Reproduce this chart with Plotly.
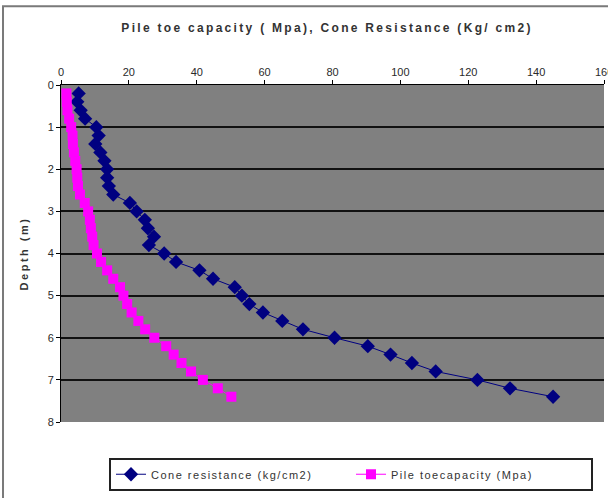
import plotly.graph_objects as go

depth = [0.2, 0.4, 0.6, 0.8, 1.0, 1.2, 1.4, 1.6, 1.8, 2.0, 2.2, 2.4, 2.6, 2.8, 3.0, 3.2, 3.4, 3.6, 3.8,
         4.0, 4.2, 4.4, 4.6, 4.8, 5.0, 5.2, 5.4, 5.6, 5.8, 6.0, 6.2, 6.4, 6.6, 6.8, 7.0, 7.2, 7.4]
cone_resistance = [5.2, 4.8, 5.8, 7.1, 10.4, 11.1, 10.1, 11.6, 12.8, 13.6, 13.6, 14.1, 15.4, 20.3, 22.3,
                   24.7, 25.6, 27.4, 25.9, 30.4, 33.9, 40.8, 44.8, 51.2, 53.3, 55.5, 59.5, 65.2, 71.3,
                   80.6, 90.4, 97.1, 103.4, 110.4, 122.7, 132.3, 145.0]
pile_toe = [1.6, 1.7, 1.9, 2.4, 3.0, 3.4, 3.5, 3.8, 4.2, 4.6, 4.8, 5.0, 5.6, 7.0, 8.0, 8.5, 8.8, 9.2, 9.6,
            10.6, 11.8, 13.6, 15.4, 17.4, 18.4, 19.5, 20.8, 22.8, 24.8, 27.5, 31.0, 33.2, 35.5, 38.3,
            41.8, 46.2, 50.2]

x_ticks = [0, 20, 40, 60, 80, 100, 120, 140, 160]
y_ticks = [0, 1, 2, 3, 4, 5, 6, 7, 8]

title_text = "Pile toe capacity ( Mpa), Cone Resistance (Kg/ cm2)"
y_title = "Depth (m)"
cone_name = "Cone resistance (kg/cm2)"
pile_name = "Pile toecapacity (Mpa)"


def spaced(t, sp):
    return '<span style="letter-spacing:%spx">%s</span>' % (sp, t)


fig = go.Figure()
fig.add_trace(go.Scatter(
    x=cone_resistance, y=depth, mode="lines+markers",
    name=spaced(cone_name, 1.5),
    line=dict(color="#000080", width=1),
    marker=dict(symbol="diamond", size=11, color="#000080"),
))
fig.add_trace(go.Scatter(
    x=pile_toe, y=depth, mode="lines+markers",
    name=spaced(pile_name, 1.5),
    line=dict(color="#FF00FF", width=1),
    marker=dict(symbol="square", size=10, color="#FF00FF"),
))

fig.update_layout(
    width=608, height=498,
    margin=dict(l=61, r=4, t=85, b=76),
    paper_bgcolor="white",
    plot_bgcolor="#808080",
    font=dict(family="Liberation Sans, Arial, sans-serif", size=11, color="#333333"),
    title=dict(
        text="<b>" + spaced(title_text, 2.3) + "</b>",
        x=0.49, xref="paper", xanchor="center",
        y=0.945, yref="container", yanchor="middle",
        font=dict(size=12, color="#333333"),
    ),
    showlegend=True,
    legend=dict(
        orientation="h",
        x=0.0884, xanchor="left", y=-0.155, yanchor="middle",
        bordercolor="#222222", borderwidth=2, bgcolor="white",
        font=dict(size=11, color="#333333"),
        entrywidth=195, entrywidthmode="pixels",
    ),
    xaxis=dict(
        side="top", range=[0, 160], tickvals=x_ticks,
        showgrid=False, zeroline=False,
        showline=True, linecolor="black", linewidth=1,
        ticks="outside", ticklen=4, tickcolor="black",
        tickfont=dict(size=11, color="#2a2a2a"),
    ),
    yaxis=dict(
        range=[8, 0], tickvals=y_ticks,
        showgrid=True, gridcolor="#111111", gridwidth=2,
        zeroline=False,
        showline=True, linecolor="black", linewidth=1,
        ticks="outside", ticklen=4, tickcolor="black",
        tickfont=dict(size=11, color="#2a2a2a"),
        title=dict(text="<b>" + spaced(y_title, 2.5) + "</b>",
                   font=dict(size=11, color="#333333"), standoff=16),
    ),
)

# last top tick label, cut by the page edge as in the original
fig.add_annotation(x=x_ticks[-1], xref="x", y=1, yref="paper", text=str(x_ticks[-1]),
                   showarrow=False, xanchor="center", yanchor="bottom", yshift=5,
                   font=dict(size=11, color="#2a2a2a"))

# outer chart frame
fig.add_shape(type="rect", xref="paper", yref="paper",
              x0=-0.1068, x1=1.02, y0=-0.235, y1=1.234,
              line=dict(color="#7a7a7a", width=2), fillcolor="rgba(0,0,0,0)", layer="below")

fig.write_html("out.html")
